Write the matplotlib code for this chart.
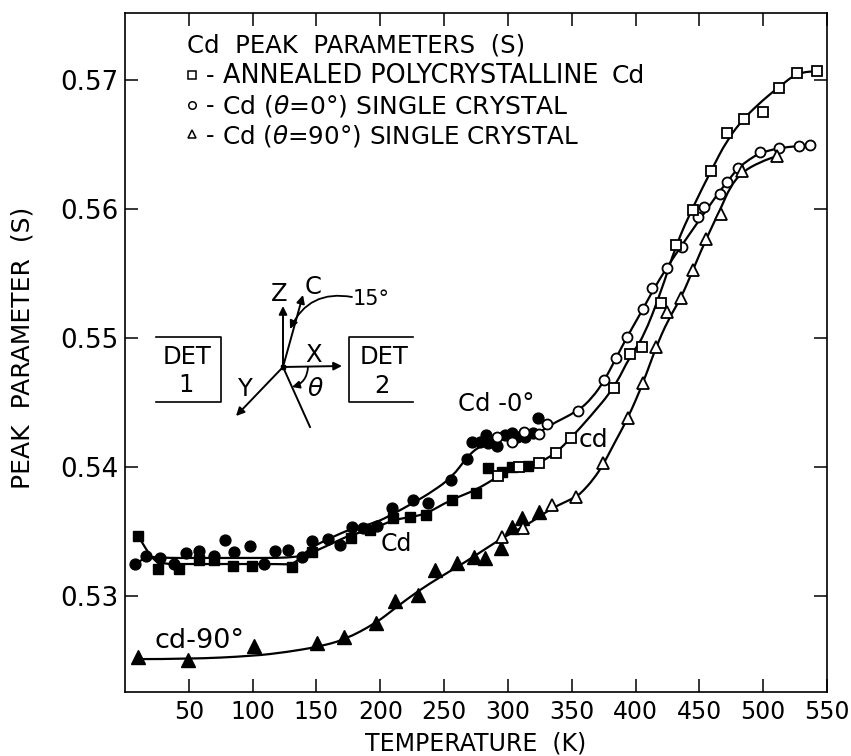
import numpy as np
import matplotlib
matplotlib.use('Agg')
import matplotlib.pyplot as plt
from matplotlib.patches import FancyArrowPatch, PathPatch
from matplotlib.path import Path

plt.rcParams['font.family'] = ['DejaVu Sans']
plt.rcParams['mathtext.fontset'] = 'dejavusans'

# solid markers (low temperature runs)
t_solid_circle = [8.1, 16.7, 27.6, 38.6, 48, 58.2, 69.9, 78.5, 85.6, 98.1, 109.1, 117.7, 127.9, 138.8, 146.7, 159.2, 168.6, 178, 186.6, 197.6, 209.3, 225.8, 237.5, 255.5, 268, 272, 278.2, 282.9, 284.5, 291.6, 297.8, 303.3, 307.2, 313.5, 319.7, 323.6]
s_solid_circle = [.53248, .5331, .53295, .53248, .53333, .53349, .5331, .53434, .53341, .53388, .53248, .53349, .53357, .53302, .53426, .53442, .53395, .53535, .53527, .53543, .53682, .53744, .53721, .53899, .54062, .54194, .54194, .54248, .54186, .54163, .54248, .54264, .54233, .54233, .54264, .5438]

t_solid_square = [10.4, 26.1, 42.5, 58.2, 69.9, 84.8, 99.7, 131, 146.7, 177.2, 192.1, 210.1, 223.4, 235.9, 256.3, 275.1, 284.5, 295.5, 303.3, 315.8]
s_solid_square = [.53465, .53209, .53209, .53279, .53279, .53233, .53233, .53225, .53341, .5345, .53512, .53605, .53612, .53628, .53744, .53798, .53992, .53961, .54, .54008]

t_solid_tri = [10.4, 49.6, 101.3, 150.6, 171.7, 196.8, 211.7, 229.7, 243, 260.2, 273.5, 282.2, 294.7, 303.3, 311.1, 324.4]
s_solid_tri = [.52527, .52504, .52612, .52636, .52682, .52791, .52961, .53008, .53202, .53256, .53302, .53295, .53372, .53535, .53605, .53651]

# open markers
t_open_circle = [291.6, 303.3, 312.7, 324.4, 331, 355, 375.4, 384.8, 393, 405.9, 412.9, 424.7, 436.4, 448.9, 453.6, 466.2, 471.7, 480.3, 497.5, 512.4, 528, 536.7]
s_open_circle = [.54233, .54194, .54271, .54256, .54333, .54434, .54674, .54845, .55008, .55225, .55388, .55543, .55705, .55938, .56016, .56116, .56209, .56318, .56442, .56473, .56488, .56496]

t_open_square = [292.3, 308.7, 324.4, 337.7, 349.4, 383.2, 395.7, 405.1, 420, 431.7, 445, 459.1, 471.7, 485, 499.9, 512.4, 526.5, 542.2]
s_open_square = [.5393, .54, .54031, .54109, .54225, .54612, .54876, .5493, .55271, .55721, .55992, .56295, .56589, .56698, .56752, .56938, .57054, .5707]

t_open_tri = [295.5, 311.9, 334.6, 353.4, 374.5, 394.1, 405.9, 416.1, 424.7, 435.6, 445, 455.2, 467, 483.5, 510.9]
s_open_tri = [.53457, .53527, .53705, .53767, .54031, .5438, .54651, .5493, .55201, .5531, .55527, .55767, .55961, .56295, .56411]

# hand drawn curves through the points
t_curve_0 = [8.1, 16.7, 27.7, 59, 90.3, 121.6, 131, 138.8, 145.1, 160.8, 178.8, 196, 210.1, 225.8, 241.5, 256.3, 268, 276.7, 291.6, 309.6, 323.6, 331.5, 355, 366, 375.4, 384.8, 393.3, 405.9, 412.9, 424.7, 436.4, 448.9, 458.3, 466.2, 471.7, 480.3, 489.7, 497.5, 512.4, 528, 536.7]
s_curve_0 = [.53248, .5331, .53295, .53295, .53295, .53295, .53302, .5331, .53372, .5345, .53527, .53566, .53636, .53721, .53814, .53922, .54077, .54155, .54225, .5424, .54256, .54318, .54434, .54535, .54667, .54845, .55008, .55225, .55357, .5555, .55721, .55899, .56031, .5614, .56209, .56318, .56388, .56434, .56473, .56488, .56496]

t_curve_poly = [10.4, 15.9, 22.2, 29.2, 48.8, 82.5, 121.6, 131, 137.3, 147.5, 163.1, 176.4, 192.1, 210.1, 223.4, 235.9, 254.8, 275.1, 291.5, 301.7, 315.8, 324.4, 337.7, 349.4, 364.3, 383.2, 395.7, 405.9, 420, 431.7, 445, 459.1, 471.7, 485, 499.9, 512.4, 526.5, 542.2]
s_curve_poly = [.53465, .53372, .53279, .53248, .53248, .53248, .53248, .53244, .53295, .53341, .53411, .53473, .53512, .53589, .53612, .53636, .53744, .53822, .53922, .53977, .54016, .54031, .54109, .54225, .54388, .54612, .5486, .55, .55357, .55721, .56016, .56295, .56535, .56705, .56845, .56946, .57054, .5707]

t_curve_90 = [10.4, 49.6, 100.5, 127.1, 150.6, 171.7, 196.8, 211.7, 229.7, 246.9, 260.2, 272.7, 295.5, 311.9, 324.4, 334.6, 353.4, 359, 367, 374.5, 383.9, 394.1, 405.9, 416.1, 425.5, 435.6, 445, 455.2, 467, 474, 483.5, 497.6, 510.9]
s_curve_90 = [.52511, .52511, .52535, .52566, .52605, .52659, .52791, .52907, .53039, .53147, .53225, .53302, .5345, .53535, .53612, .53682, .53767, .53815, .53905, .54015, .54194, .5438, .54651, .5493, .5514, .5531, .55527, .55767, .56008, .5617, .56287, .56364, .56411]

x_ticks = [50, 100, 150, 200, 250, 300, 350, 400, 450, 500, 550]
y_ticks = [0.53, 0.54, 0.55, 0.56, 0.57]


def smooth_curve(ax, t, s):
    # quadratic segments between midpoints, the point readings act as control points
    v = [(t[0], s[0])]
    c = [Path.MOVETO]
    for i in range(1, len(t) - 1):
        v.append((t[i], s[i]))
        c.append(Path.CURVE3)
        v.append(((t[i] + t[i + 1]) / 2, (s[i] + s[i + 1]) / 2))
        c.append(Path.CURVE3)
    v.append((t[-1], s[-1]))
    c.append(Path.LINETO)
    ax.add_patch(PathPatch(Path(v, c), fc='none', ec='k', lw=1.6, zorder=2))


W, H = 851, 756
fig = plt.figure(figsize=(W / 100, H / 100), dpi=100)
L, R, T, B = 125, 827, 13, 692
ax = fig.add_axes([L / W, 1 - B / H, (R - L) / W, (B - T) / H])

smooth_curve(ax, t_curve_0, s_curve_0)
smooth_curve(ax, t_curve_poly, s_curve_poly)
smooth_curve(ax, t_curve_90, s_curve_90)

ax.plot(t_solid_circle, s_solid_circle, 'o', color='k', ms=7.8, zorder=3)
ax.plot(t_solid_square, s_solid_square, 's', color='k', ms=7.2, zorder=3)
ax.plot(t_solid_tri, s_solid_tri, '^', color='k', ms=9.6, zorder=3)
ax.plot(t_open_circle, s_open_circle, 'o', mfc='w', mec='k', mew=1.3, ms=7.2, zorder=4)
ax.plot(t_open_square, s_open_square, 's', mfc='w', mec='k', mew=1.3, ms=6.8, zorder=4)
ax.plot(t_open_tri, s_open_tri, '^', mfc='w', mec='k', mew=1.3, ms=8.6, zorder=4)

ax.set_xlim(0, 550)
ax.set_ylim(0.52256, 0.57519)
ax.set_xticks(x_ticks)
ax.set_yticks(y_ticks)
ax.set_yticklabels(['%.2f' % v for v in y_ticks])
ax.tick_params(direction='in', length=9.5, width=1.1, top=True, right=True, color='k')
ax.tick_params(axis='x', pad=6, labelsize=17)
ax.tick_params(axis='y', pad=5, labelsize=18.8)
for sp in ax.spines.values():
    sp.set_linewidth(1.2)

# overlay in pixel coordinates for lettering and the detector sketch
ov = fig.add_axes([0, 0, 1, 1], facecolor='none')
ov.set_xlim(0, W)
ov.set_ylim(H, 0)
ov.axis('off')


def label(x, y, s, size=16, ha='center', **kw):
    ov.text(x, y + 1, s, fontsize=size, ha=ha, va='center', color='k', **kw)


label(476, 742, 'TEMPERATURE  (K)', size=17)
label(23, 347, 'PEAK  PARAMETER  (S)', size=18, rotation=90)

label(187, 44, 'Cd  PEAK  PARAMETERS  (S)', size=17.6, ha='left')
label(210, 75, '-', size=17)
label(223, 75, 'ANNEALED POLYCRYSTALLINE', size=18.4, ha='left')
label(612, 75, 'Cd', size=18, ha='left')
label(210, 105, '-', size=17)
label(222, 105, 'Cd ($\\theta$=0°) SINGLE CRYSTAL', size=18, ha='left')
label(210, 135, '-', size=17)
label(222, 135, 'Cd ($\\theta$=90°) SINGLE CRYSTAL', size=17.7, ha='left')
ov.plot([192], [75], 's', mfc='w', mec='k', mew=1.1, ms=5.4)
ov.plot([192], [105], 'o', mfc='w', mec='k', mew=1.1, ms=5.4)
ov.plot([192], [134], '^', mfc='w', mec='k', mew=1.1, ms=6.4)

label(496, 403, 'Cd -0°', size=17.5)
label(396, 543, 'Cd', size=17)
label(593, 439, 'cd', size=18)
label(200, 640, 'cd-90°', size=19.5)

# detector boxes
ov.plot([156, 221, 221, 156], [337, 337, 402, 402], color='k', lw=1.2)
ov.plot([413, 349, 349, 413], [337, 337, 402, 402], color='k', lw=1.2)
label(187, 356, 'DET', size=17.5)
label(186, 384, '1', size=17.5)
label(384, 356, 'DET', size=17.5)
label(382, 385, '2', size=17.5)

# axes sketch
origin = (283, 367)
for tip in [(283, 306), (303, 295), (342, 366), (236, 416)]:
    ov.add_patch(FancyArrowPatch(origin, tip, arrowstyle='-|>', mutation_scale=12, lw=1.4, color='k', shrinkA=0, shrinkB=0))
ov.plot([283, 310], [367, 427], color='k', lw=1.4)
ov.plot([283], [367], 's', color='k', ms=3.5)
ov.add_patch(FancyArrowPatch((352, 297), (290, 329), connectionstyle='arc3,rad=0.38', arrowstyle='-|>', mutation_scale=12, lw=1.3, color='k', shrinkA=0, shrinkB=0))
ov.add_patch(FancyArrowPatch((308, 367), (292, 387), connectionstyle='arc3,rad=-0.35', arrowstyle='-|>', mutation_scale=11, lw=1.3, color='k', shrinkA=0, shrinkB=0))
label(279, 293, 'Z', size=17.5)
label(313, 286, 'C', size=17.5)
label(371, 298, '15°', size=15)
label(314, 354, 'X', size=17.5)
label(315, 388, '$\\theta$', size=18)
label(245, 388, 'Y', size=17.5)

fig.savefig('out.png', dpi=100)
